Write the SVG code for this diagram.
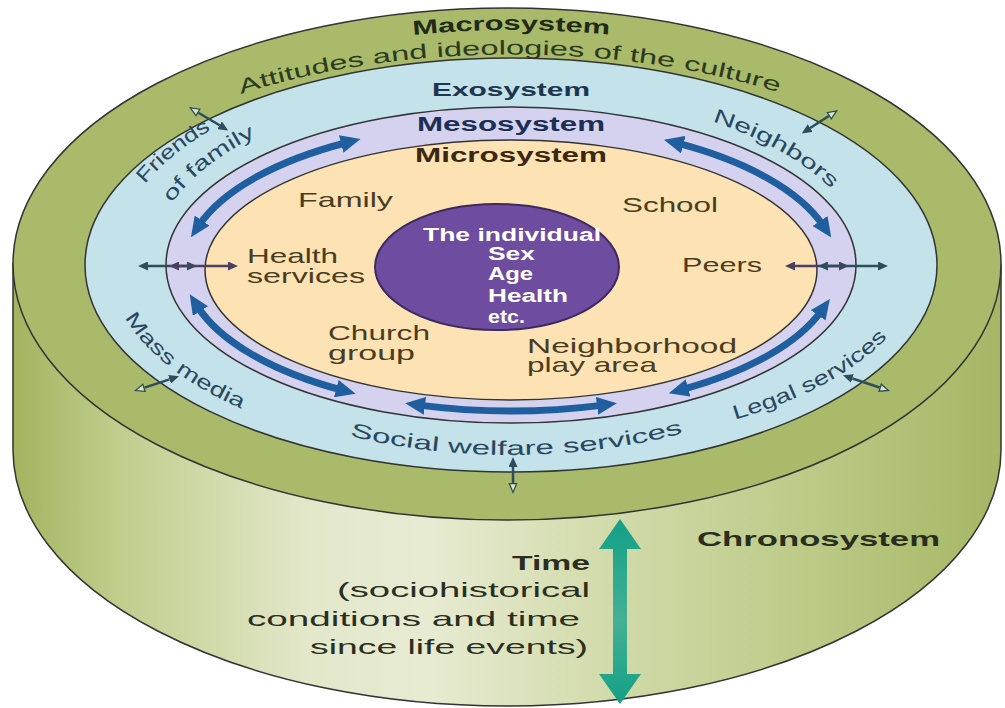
<svg xmlns="http://www.w3.org/2000/svg" width="1005" height="708" viewBox="0 0 1005 708">
<style>
.t{font-family:"Liberation Sans",Arial,sans-serif}
.b{font-weight:bold}
.ring{stroke:#333;stroke-width:1.5}
.lbl{font-size:21px;fill:#4a3c20}
.exo{font-size:20px;fill:#2a4760}
.ind{font-size:18px;fill:#ffffff;font-weight:bold}
.blue{fill:none;stroke:#1f5f9f;stroke-width:7;marker-start:url(#bh);marker-end:url(#bh)}
.sm{fill:none;stroke:#2c4d5b;stroke-width:2.5}
.smp{fill:none;stroke:#4a3e62;stroke-width:2.5;marker-start:url(#pf);marker-end:url(#pf)}
</style>
<defs>
<linearGradient id="side" x1="13" y1="0" x2="1001" y2="0" gradientUnits="userSpaceOnUse">
<stop offset="0" stop-color="#a1b45f"/>
<stop offset="0.1" stop-color="#bfcc8a"/>
<stop offset="0.3" stop-color="#e3e8cb"/>
<stop offset="0.42" stop-color="#e7ebd2"/>
<stop offset="0.6" stop-color="#d2dbab"/>
<stop offset="0.8" stop-color="#bccb88"/>
<stop offset="1" stop-color="#a5b765"/>
</linearGradient>
<linearGradient id="timeg" x1="0" y1="519" x2="0" y2="704" gradientUnits="userSpaceOnUse">
<stop offset="0" stop-color="#12a086"/>
<stop offset="0.55" stop-color="#45b096"/>
<stop offset="1" stop-color="#13a085"/>
</linearGradient>
<marker id="bh" viewBox="0 0 20 18" refX="6" refY="9" markerWidth="20" markerHeight="18" markerUnits="userSpaceOnUse" orient="auto-start-reverse"><path d="M0,0 L20,9 L0,18 Z" fill="#1f5f9f"/></marker>
<marker id="sf" viewBox="0 0 10 9" refX="0" refY="4.5" markerWidth="10" markerHeight="9" markerUnits="userSpaceOnUse" orient="auto-start-reverse"><path d="M0,0 L10,4.5 L0,9 Z" fill="#2c4d5b"/></marker>
<marker id="pf" viewBox="0 0 10 9" refX="0" refY="4.5" markerWidth="10" markerHeight="9" markerUnits="userSpaceOnUse" orient="auto-start-reverse"><path d="M0,0 L10,4.5 L0,9 Z" fill="#4a3e62"/></marker>
<marker id="sh" viewBox="0 0 10 9" refX="0" refY="4.5" markerWidth="10" markerHeight="9" markerUnits="userSpaceOnUse" orient="auto-start-reverse" overflow="visible"><path d="M0.6,0.8 L9.4,4.5 L0.6,8.2 Z" fill="#dfe7c0" stroke="#2c4d5b" stroke-width="1.3"/></marker>
<path id="p-macro" d="M 413 35 Q 512 25 612 35"/>
<path id="p-att" d="M 241 94 A 465 211 0 0 1 786 95"/>
<path id="p-friends" d="M 145 184 A 400 203 0 0 1 214 128"/>
<path id="p-offam" d="M 172 203 A 361 183 0 0 1 258 135"/>
<path id="p-neigh" d="M 712 121.4 A 356 174 0 0 1 832 189.8"/>
<path id="p-mass" d="M 125 317.6 A 401 194 0 0 0 245 410.2"/>
<path id="p-legal" d="M 735 419.8 A 409 185 0 0 0 890 334.5"/>
<path id="p-social" d="M 350 436 A 369 190 0 0 0 685 432.5"/>
</defs>
<rect width="1005" height="708" fill="#ffffff"/>

<g id="chronosystem">
<path d="M 13 264 L 13 450 A 494 256 0 0 0 1001 450 L 1001 264 Z" fill="url(#side)" stroke="#333" stroke-width="1.5"/>
<path d="M620,519 L641,549 L627,549 L627,674 L641,674 L620,704 L599,674 L613,674 L613,549 L599,549 Z" fill="url(#timeg)"/>
<text class="t b" x="697" y="546" font-size="21" fill="#2b2e1e" textLength="243" lengthAdjust="spacingAndGlyphs">Chronosystem</text>
<text class="t b" x="512" y="570" font-size="21" fill="#2b2e1e" textLength="78" lengthAdjust="spacingAndGlyphs">Time</text>
<text class="t" x="337" y="597" font-size="21" fill="#2b2e1e" textLength="253" lengthAdjust="spacingAndGlyphs">(sociohistorical</text>
<text class="t" x="247" y="626" font-size="21" fill="#2b2e1e" textLength="333" lengthAdjust="spacingAndGlyphs">conditions and time</text>
<text class="t" x="310" y="654" font-size="21" fill="#2b2e1e" textLength="278" lengthAdjust="spacingAndGlyphs">since life events)</text>
</g>

<g id="macrosystem">
<ellipse cx="507" cy="264" rx="494" ry="256" fill="#a9bb6a" class="ring"/>
<text class="t b" font-size="20" fill="#1f2a17"><textPath href="#p-macro" textLength="197" lengthAdjust="spacingAndGlyphs">Macrosystem</textPath></text>
<text class="t" font-size="20" fill="#2d3a20"><textPath href="#p-att" textLength="545" lengthAdjust="spacingAndGlyphs">Attitudes and ideologies of the culture</textPath></text>
</g>

<g id="exosystem">
<ellipse cx="511" cy="265" rx="426" ry="207" fill="#c3e2ea" class="ring"/>
<text class="t b" x="432" y="96" font-size="19" fill="#1e3550" textLength="158" lengthAdjust="spacingAndGlyphs">Exosystem</text>
<text class="t exo"><textPath href="#p-friends" textLength="86" lengthAdjust="spacingAndGlyphs">Friends</textPath></text>
<text class="t exo"><textPath href="#p-offam" textLength="108" lengthAdjust="spacingAndGlyphs">of family</textPath></text>
<text class="t exo"><textPath href="#p-neigh" textLength="138" lengthAdjust="spacingAndGlyphs">Neighbors</textPath></text>
<text class="t exo"><textPath href="#p-mass" textLength="150" lengthAdjust="spacingAndGlyphs">Mass media</textPath></text>
<text class="t exo"><textPath href="#p-legal" textLength="175" lengthAdjust="spacingAndGlyphs">Legal services</textPath></text>
<text class="t exo"><textPath href="#p-social" textLength="336" lengthAdjust="spacingAndGlyphs">Social welfare services</textPath></text>
</g>

<g id="mesosystem">
<ellipse cx="511" cy="265" rx="345" ry="158" fill="#d4d2ee" class="ring"/>
<text class="t b" x="417" y="131" font-size="20" fill="#1b2f55" textLength="188" lengthAdjust="spacingAndGlyphs">Mesosystem</text>
</g>

<g id="microsystem">
<ellipse cx="511" cy="270" rx="306" ry="130" fill="#fde2b4" class="ring"/>
<text class="t b" x="415" y="162" font-size="20" fill="#3b2811" textLength="192" lengthAdjust="spacingAndGlyphs">Microsystem</text>
<text class="t lbl" x="298" y="207" textLength="95" lengthAdjust="spacingAndGlyphs">Family</text>
<text class="t lbl" x="622" y="212" textLength="96" lengthAdjust="spacingAndGlyphs">School</text>
<text class="t lbl" x="247" y="263" textLength="91" lengthAdjust="spacingAndGlyphs">Health</text>
<text class="t lbl" x="247" y="283" textLength="118" lengthAdjust="spacingAndGlyphs">services</text>
<text class="t lbl" x="682" y="272" textLength="80" lengthAdjust="spacingAndGlyphs">Peers</text>
<text class="t lbl" x="328" y="340" textLength="102" lengthAdjust="spacingAndGlyphs">Church</text>
<text class="t lbl" x="328" y="360" textLength="87" lengthAdjust="spacingAndGlyphs">group</text>
<text class="t lbl" x="527" y="353" textLength="210" lengthAdjust="spacingAndGlyphs">Neighborhood</text>
<text class="t lbl" x="527" y="372" textLength="130" lengthAdjust="spacingAndGlyphs">play area</text>
</g>

<g id="individual">
<ellipse cx="497" cy="267" rx="122" ry="63" fill="#6e4c9f" stroke="#3b2960" stroke-width="2"/>
<text class="t ind" x="423" y="241" textLength="178" lengthAdjust="spacingAndGlyphs">The individual</text>
<text class="t ind" x="488" y="260" textLength="47" lengthAdjust="spacingAndGlyphs">Sex</text>
<text class="t ind" x="488" y="280" textLength="45" lengthAdjust="spacingAndGlyphs">Age</text>
<text class="t ind" x="488" y="302" textLength="80" lengthAdjust="spacingAndGlyphs">Health</text>
<text class="t ind" x="488" y="323" textLength="37" lengthAdjust="spacingAndGlyphs">etc.</text>
</g>

<g id="connectors">
<path class="blue" d="M 198.8 225.6 A 326 144 0 0 1 347.0 142.5"/>
<path class="blue" d="M 677.5 143.2 A 326 144 0 0 1 823.4 225.9"/>
<path class="blue" d="M 342.1 390.2 A 326 144 0 0 1 197.2 306.0"/>
<path class="blue" d="M 603 405.1 A 326 144 0 0 1 419 405.1"/>
<path class="blue" d="M 821.7 310.5 A 326 144 0 0 1 682.3 389.5"/>
<path class="sm" d="M 198.4 112.7 L 219.6 125.3" marker-start="url(#sh)" marker-end="url(#sf)"/>
<path class="sm" d="M 828.8 116 L 810.2 128" marker-start="url(#sh)" marker-end="url(#sf)"/>
<path class="sm" d="M 148 266 L 187 266" marker-start="url(#sf)" marker-end="url(#sf)"/>
<path class="smp" d="M 179 266 L 228 266"/>
<path class="smp" d="M 795 266 L 839 266"/>
<path class="sm" d="M 828 266 L 878 266" marker-start="url(#sf)" marker-end="url(#sf)"/>
<path class="sm" d="M 144.5 387.6 L 169.5 379.4" marker-start="url(#sh)" marker-end="url(#sf)"/>
<path class="sm" d="M 852.4 378.5 L 879.6 387.5" marker-start="url(#sf)" marker-end="url(#sh)"/>
<path class="sm" d="M 513 467 L 513 483" marker-start="url(#sf)" marker-end="url(#sh)"/>
</g>
</svg>
